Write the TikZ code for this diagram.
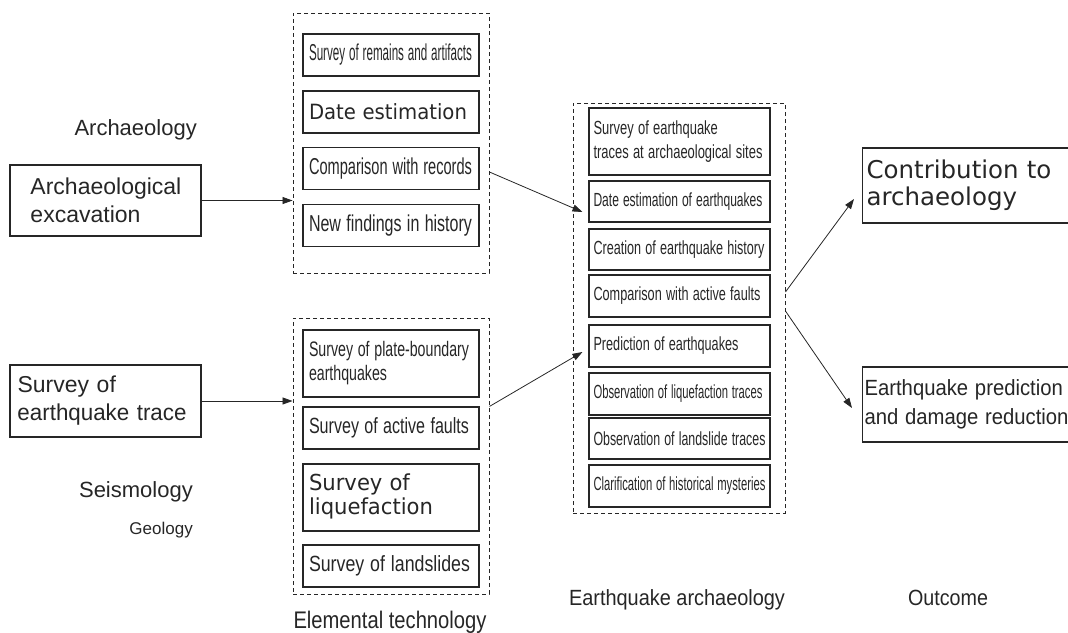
\documentclass[tikz,border=0pt]{standalone}
\usepackage{fontspec}
\setmainfont{Liberation Sans}
\newfontfamily\widef{DejaVu Sans}
\usetikzlibrary{arrows.meta,calc}

\newcommand{\sq}[2]{\resizebox{#1pt}{\height}{#2}}
\newcommand{\fs}[2]{\fontsize{#1}{#2}\selectfont}

\begin{document}
\begin{tikzpicture}[x=1pt,y=-1pt,
    every node/.style={text=black!85},
    lbl/.style={inner sep=0pt},
    box/.style={draw=black!85, line width=1.1pt, inner sep=0pt, align=left},
    gbox/.style={box, minimum width=176pt, minimum height=42pt, text width=164pt},
    mbox/.style={box, minimum width=181pt, minimum height=41pt, text width=172pt, font=\fs{19}{24}},
    grp/.style={draw=black!85, line width=0.9pt, dash pattern=on 4pt off 3pt, minimum width=196pt},
    arr/.style={-{Triangle[length=10pt,width=7pt]}, line width=0.8pt, draw=black!85}]
    \useasboundingbox (0,0) rectangle (1068,632);
    \clip (0,0) rectangle (1068,632);
    %% Draw the starting fields
    \node[lbl, font=\fs{22}{26}, anchor=base east] (lArch) at (197,135) {Archaeology};
    \node[box, font=\fs{23}{28}, minimum width=191pt, minimum height=71pt, text width=150pt] (exc) at (105.5,200.5) {Archaeological\\excavation};
    \node[box, font=\fs{23}{28}, minimum width=191pt, minimum height=72pt, text width=176pt] (eqt) at (105.5,401) {Survey of\\\sq{169}{earthquake trace}};
    \node[lbl, font=\fs{22}{26}, anchor=base east] (lSeis) at (193,497) {Seismology};
    \node[lbl, font=\fs{17}{20}, anchor=base east] (lGeo) at (193,534) {Geology};
    %% Draw the elemental technology
    \node[grp, minimum height=260pt] (g1) at (391,143) {};
    \node[gbox, font=\fs{23}{26}] (r1) at (391,55) {\sq{163}{Survey of remains and artifacts}};
    \node[gbox, font=\widef\fs{21}{26}] (r2) at (391,112) {\sq{158}{Date estimation}};
    \node[gbox, font=\fs{23}{26}] (r3) at (391,168.5) {\sq{163}{Comparison with records}};
    \node[gbox, font=\fs{23}{26}] (r4) at (391,225.5) {\sq{163}{New findings in history}};
    \node[grp, minimum height=276pt] (g2) at (391,456) {};
    \node[gbox, minimum height=67pt, font=\fs{21}{24}] (s1) at (391,363.5) {\sq{160}{\begin{tabular}{@{}l@{}}Survey of plate-boundary\\earthquakes\end{tabular}}};
    \node[gbox, font=\fs{22}{26}] (s2) at (391,428) {\sq{160}{Survey of active faults}};
    \node[gbox, minimum height=67pt, font=\widef\fs{22}{23.5}] (s3) at (391,497.5) {\sq{124}{\begin{tabular}{@{}l@{}}Survey of\\liquefaction\end{tabular}}};
    \node[gbox, font=\fs{22}{26}] (s4) at (391,566) {\sq{161}{Survey of landslides}};
    \node[lbl, font=\fs{24}{28}, anchor=base] (lElem) at (390,628) {\sq{193}{Elemental technology}};
    %% Draw the earthquake archaeology
    \node[grp, minimum width=212pt, minimum height=410pt] (g3) at (679,308) {};
    \node[mbox, minimum height=67pt] (m1) at (679.5,141.5) {\sq{169}{\begin{tabular}{@{}l@{}}Survey of earthquake\\traces at archaeological sites\end{tabular}}};
    \node[mbox] (m2) at (679.5,201.5) {\sq{169}{Date estimation of earthquakes}};
    \node[mbox] (m3) at (679.5,249.5) {\sq{171}{Creation of earthquake history}};
    \node[mbox, minimum height=42pt] (m4) at (679.5,296) {\sq{167}{Comparison with active faults}};
    \node[mbox, minimum height=42pt] (m5) at (679.5,346) {\sq{145}{Prediction of earthquakes}};
    \node[mbox, minimum height=42pt] (m6) at (679.5,394) {\sq{169}{Observation of liquefaction traces}};
    \node[mbox] (m7) at (679.5,438.5) {\sq{172}{Observation of landslide traces}};
    \node[mbox, minimum height=42pt] (m8) at (679.5,486) {\sq{172}{Clarification of historical mysteries}};
    \node[lbl, font=\fs{22}{26}, anchor=base] (lEqA) at (677,605) {\sq{216}{Earthquake archaeology}};
    %% Draw the outcome
    \node[box, font=\widef\fs{24.5}{27}, minimum width=260pt, minimum height=75pt, text width=252pt, anchor=west] (out1) at (862,185.5) {Contribution to\\archaeology};
    \node[box, font=\fs{22}{28.5}, minimum width=260pt, minimum height=75pt, text width=256pt, anchor=west] (out2) at (862,404.5) {\sq{204}{\begin{tabular}{@{}l@{}}Earthquake prediction\\and damage reduction\end{tabular}}};
    \node[lbl, font=\fs{22}{26}, anchor=base] (lOut) at (948,605) {\sq{80}{Outcome}};
    %% Draw the edges
    \begin{scope}[every path/.style={arr}]
      \draw (exc.east) -- (exc.east -| g1.west);
      \draw (eqt.east) -- (eqt.east -| g2.west);
      \draw ($(g1.east |- r3)+(0,3.5)$) -- ($(m2.west)+(-6,10.5)$);
      \draw (g2.east |- s2.north) -- ($(m5.west)+(-6,6)$);
      \draw ($(g3.east |- m4)+(0,-4)$) -- ($(out1.west)+(-8,13.5)$);
      \draw ($(g3.east |- m4)+(0,15)$) -- ($(out2.west)+(-10,3.5)$);
    \end{scope}
  \end{tikzpicture}
\end{document}
